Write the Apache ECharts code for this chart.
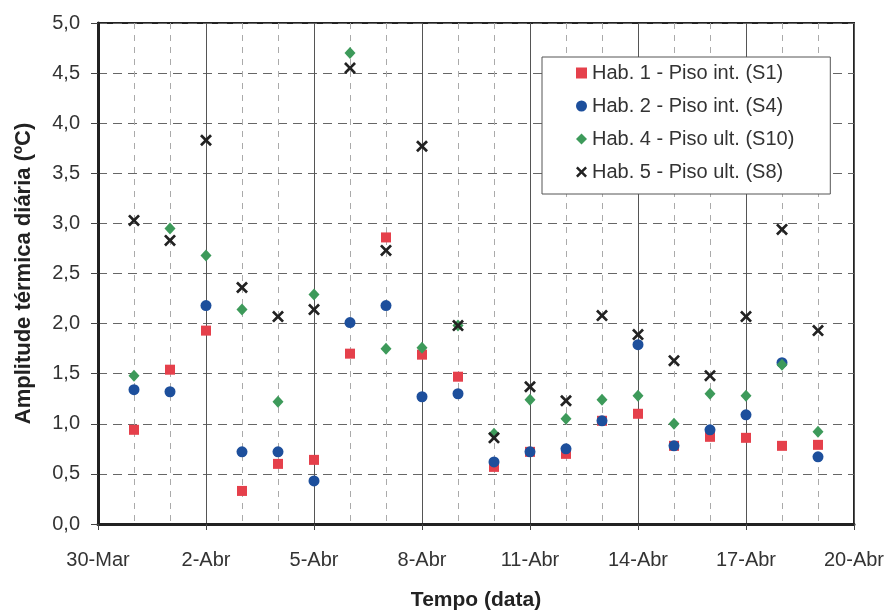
<!DOCTYPE html>
<html><head><meta charset="utf-8">
<script src="https://cdn.jsdelivr.net/npm/echarts@6/dist/echarts.min.js"></script>
<style>html,body{margin:0;padding:0;background:#fff}#c{width:891px;height:610px}</style>
</head><body><div id="c"></div>
<script>
const xTickLabels = ['30-Mar','2-Abr','5-Abr','8-Abr','11-Abr','14-Abr','17-Abr','20-Abr'];
const dayIndex = [1,2,3,4,5,6,7,8,9,10,11,12,13,14,15,16,17,18,19,20]; // days after 30-Mar
const seriesNames = ['Hab. 1 - Piso int. (S1)','Hab. 2 - Piso int. (S4)','Hab. 4 - Piso ult. (S10)','Hab. 5 - Piso ult. (S8)'];
const s1 = [0.94,1.54,1.93,0.33,0.60,0.64,1.70,2.86,1.69,1.47,0.57,0.72,0.70,1.03,1.10,0.78,0.87,0.86,0.78,0.79];
const s4 = [1.34,1.32,2.18,0.72,0.72,0.43,2.01,2.18,1.27,1.30,0.62,0.72,0.75,1.03,1.79,0.78,0.94,1.09,1.61,0.67];
const s10 = [1.48,2.95,2.68,2.14,1.22,2.29,4.70,1.75,1.76,1.98,0.90,1.24,1.05,1.24,1.28,1.00,1.30,1.28,1.59,0.92];
const s8 = [3.03,2.83,3.83,2.36,2.07,2.14,4.55,2.73,3.77,1.98,0.86,1.37,1.23,2.08,1.89,1.63,1.48,2.07,2.94,1.93];

const pairs = v => dayIndex.map((d,i)=>[d, v[i]]);
const xPath = 'path://M0,1.6L1.6,0L5,3.4L8.4,0L10,1.6L6.6,5L10,8.4L8.4,10L5,6.6L1.6,10L0,8.4L3.4,5Z';
const sans = "'Liberation Sans',Arial,sans-serif";

const chart = echarts.init(document.getElementById('c'), null, {renderer:'canvas'});
chart.setOption({
  animation:false,
  backgroundColor:'#fff',
  grid:{left:98,right:37,top:23,bottom:86,containLabel:false,outerBoundsMode:'none',show:true,borderColor:'#222',borderWidth:2,backgroundColor:'transparent'},
  xAxis:{
    type:'value',min:0,max:21,interval:3,
    name:'Tempo (data)',nameLocation:'middle',nameGap:66,
    nameTextStyle:{fontFamily:sans,fontWeight:'bold',fontSize:21,color:'#222'},
    axisLine:{show:true,lineStyle:{color:'#222',width:3}},
    axisTick:{show:true,length:6,lineStyle:{color:'#444'}},
    minorTick:{show:false,splitNumber:3},
    axisLabel:{margin:26,fontFamily:sans,fontSize:20,color:'#333',formatter:v=>xTickLabels[Math.round(v/3)]},
    splitLine:{show:true,lineStyle:{color:'#555',width:1,type:'solid'}},
    minorSplitLine:{show:true,lineStyle:{color:'#aaa',width:1,type:[6,6]}}
  },
  yAxis:{
    type:'value',min:0,max:5,interval:0.5,
    name:'Amplitude térmica diária (ºC)',nameLocation:'middle',nameGap:63,
    nameTextStyle:{fontFamily:sans,fontWeight:'bold',fontSize:22,color:'#222'},
    axisLine:{show:true,lineStyle:{color:'#222',width:3}},
    axisTick:{show:true,length:7,lineStyle:{color:'#444'}},
    axisLabel:{margin:18,fontFamily:sans,fontSize:20,color:'#333',formatter:v=>v.toFixed(1).replace('.',',')},
    splitLine:{show:true,lineStyle:{color:'#666',width:1.2,type:[9,6]}}
  },
  legend:{
    orient:'vertical',left:542,top:57,
    padding:[6,36,12,34],itemGap:13,itemWidth:11,itemHeight:11,
    backgroundColor:'#fff',borderColor:'#555',borderWidth:1,
    textStyle:{fontFamily:sans,fontSize:20,color:'#333',lineHeight:20},
    data:seriesNames
  },
  series:[
    {name:seriesNames[0],type:'scatter',data:pairs(s1),symbol:'rect',symbolSize:10,itemStyle:{color:'#e5404b',opacity:1}},
    {name:seriesNames[1],type:'scatter',data:pairs(s4),symbol:'circle',symbolSize:11,itemStyle:{color:'#1d4f9c',opacity:1}},
    {name:seriesNames[2],type:'scatter',data:pairs(s10),symbol:'diamond',symbolSize:[11,12],itemStyle:{color:'#3d9a5a',opacity:1}},
    {name:seriesNames[3],type:'scatter',data:pairs(s8),symbol:xPath,symbolSize:12,itemStyle:{color:'#222',opacity:1}}
  ]
});
</script></body></html>
